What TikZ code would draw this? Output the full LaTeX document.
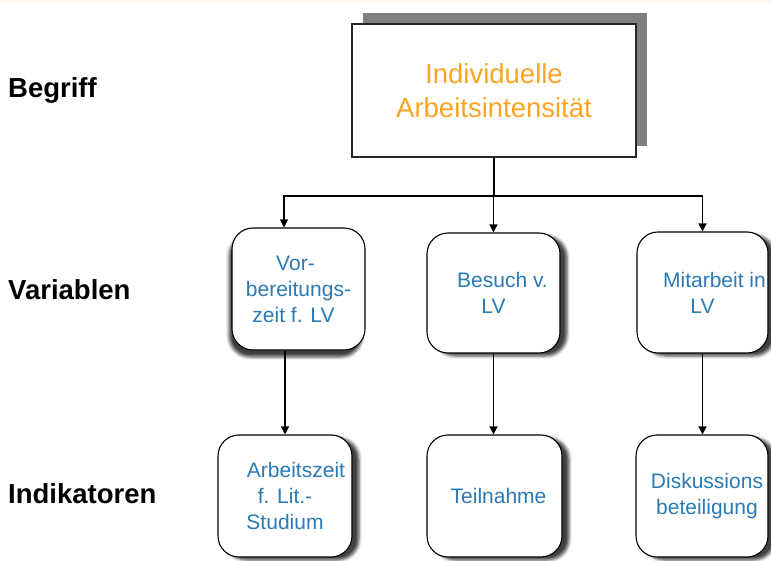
\documentclass[tikz,border=0pt]{standalone}
\usepackage{fontspec}
\setmainfont{Liberation Sans}
\usetikzlibrary{arrows.meta,shadows,shadows.blur}
\definecolor{boxblue}{HTML}{2A7AB4}
\definecolor{headorange}{HTML}{F9A522}
\definecolor{shadegray}{HTML}{808080}
\definecolor{topband}{HTML}{FFF8EF}
\begin{document}
\begin{tikzpicture}[x=1pt,y=-1pt,
  levellabel/.style={anchor=base west,inner sep=0pt,font=\fontsize{27.5}{30}\selectfont\bfseries},
  conceptbox/.style={draw=black!85,line width=1.3pt,fill=white,inner sep=0pt,align=center,
    text=headorange,font=\fontsize{27.5}{34}\selectfont,
    drop shadow={shadow xshift=11pt,shadow yshift=11pt,fill=shadegray,opacity=1}},
  itembox/.style={draw=black,line width=1.1pt,fill=white,rounded corners=21pt,inner sep=0pt,
    align=center,text=boxblue,font=\fontsize{21}{26}\selectfont},
  shadeR/.style={blur shadow={shadow xshift=7pt,shadow yshift=-3pt,shadow blur radius=3pt,shadow opacity=75}},
  shadeL/.style={blur shadow={shadow xshift=-3pt,shadow yshift=-7pt,shadow blur radius=3pt,shadow opacity=75}},
  link/.style={line width=1.2pt,draw=black},
  arr/.style={link,-{Triangle[width=8pt,length=8pt]}}]
  \useasboundingbox (0,0) rectangle (771,561);
  \fill[topband] (0,0) rectangle (771,3.5);

  % row labels
  \node[levellabel] (lbegriff) at (8,98) {Begriff};
  \node[levellabel] (lvariablen) at (8,300) {Variablen};
  \node[levellabel] (lindikatoren) at (8,503) {Indikatoren};

  % concept
  \node[conceptbox,minimum width=284pt,minimum height=133pt] (top) at (494,90.5)
    {Individuelle\\Arbeitsintensität};

  % variables
  \node[itembox,shadeL,minimum width=133pt,minimum height=122pt] (v1) at (298.5,289)
    {Vor-\hspace*{6pt}\\bereitungs-\hspace*{4pt}\\zeit f. LV\hspace*{10pt}};
  \node[itembox,shadeR,minimum width=133pt,minimum height=120pt] (v2) at (493.5,293)
    {\hspace*{18pt}Besuch v.\\LV};
  \node[itembox,shadeR,minimum width=131pt,minimum height=121pt] (v3) at (702.5,292.5)
    {\hspace*{24pt}Mitarbeit in\\LV};

  % indicators
  \node[itembox,shadeR,minimum width=134pt,minimum height=122pt] (i1) at (285,496)
    {\hspace*{22pt}Arbeitszeit\\f. Lit.-\\Studium};
  \node[itembox,shadeR,minimum width=135pt,minimum height=122pt] (i2) at (494.5,496)
    {\hspace*{8pt}Teilnahme};
  \node[itembox,shadeR,minimum width=132pt,minimum height=122pt] (i3) at (702,496)
    {\hspace*{10pt}Diskussions\\\hspace*{10pt}beteiligung};

  % connectors
  \coordinate (bus) at (493.5,196);
  \coordinate (busL) at (284,196);
  \coordinate (busR) at (702.5,196);
  \draw[link] (top.south) -- (top.south |- bus);
  \draw[arr] (bus) -- (busL) -- (busL |- v1.north);
  \draw[arr] (bus) -- (bus |- v2.north);
  \draw[arr] (bus) -- (busR) -- (busR |- v3.north);

  \draw[arr] (i1.north |- v1.south) -- (i1.north);
  \draw[arr] (v2.south) -- (v2.south |- i2.north);
  \draw[arr] (v3.south) -- (v3.south |- i3.north);
\end{tikzpicture}
\end{document}
